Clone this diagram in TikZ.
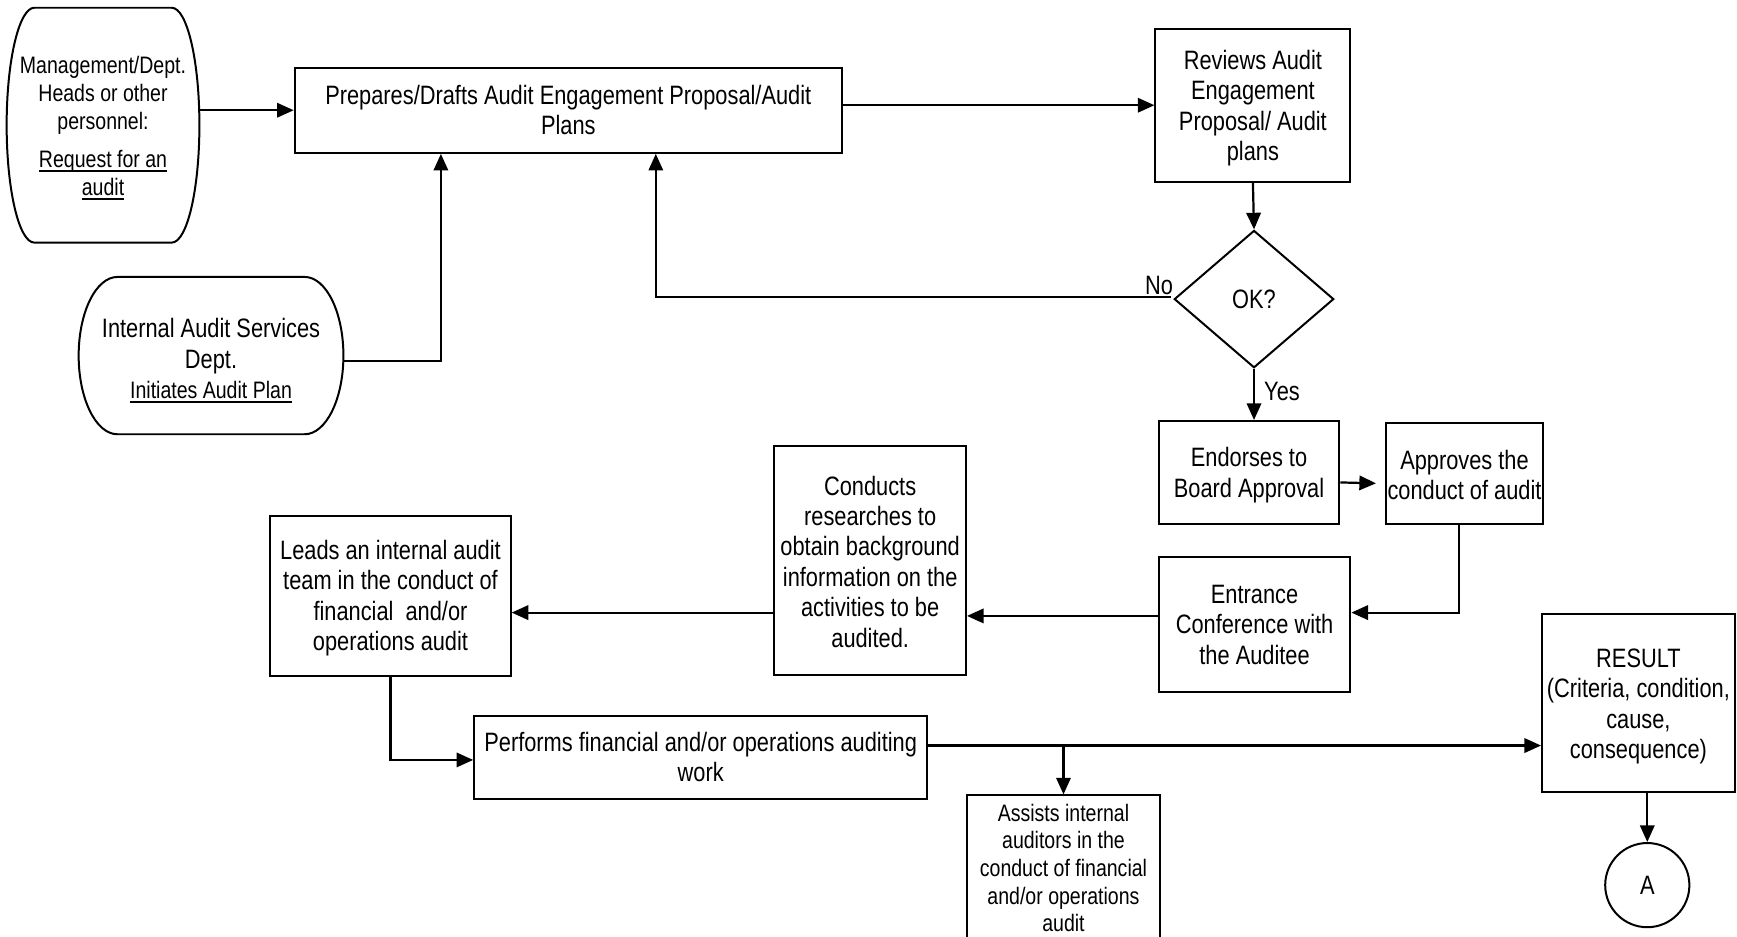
\documentclass[tikz,border=0pt]{standalone}
\usepackage{fontspec}
\setmainfont[FakeStretch=0.82]{Liberation Sans}
\usetikzlibrary{shapes.geometric,arrows.meta,calc}
\newcommand\dgmain{\fontsize{24}{27.5}\selectfont}
\newcommand\dgsmall{\fontsize{21.5}{25}\selectfont}
\newcommand\uln[1]{\setbox0\hbox{#1}\rlap{\rule[-3.5pt]{\wd0}{1.3pt}}\box0}
\newcommand\tsh[1]{\rule{0pt}{#1}}
\begin{document}
\begin{tikzpicture}[x=1pt,y=-1pt,
  box/.style={draw, line width=1.8pt, inner sep=0pt, align=center, font=\dgmain},
  term/.style={inner sep=0pt, align=center, font=\dgmain},
  lbl/.style={inner sep=0pt, font=\dgmain},
  arr/.style={line width=2pt, -{Triangle[length=15pt,width=13pt]}},
  outl/.style={line width=1.8pt}]
\useasboundingbox (0,0) rectangle (1568,845);
\clip (0,0) rectangle (1568,845);

% terminal-like nodes
\node[term, font=\dgsmall, minimum width=174pt, minimum height=212pt] (mgmt) at (93,113)
  {\tsh{20.7pt}Management/Dept.\\Heads or other\\personnel:\\[10pt]\uln{Request for an}\\\uln{audit}};
\draw[outl] (31,7) -- (155,7) arc[start angle=-90,end angle=90,x radius=25,y radius=106]
  -- (31,219) arc[start angle=90,end angle=270,x radius=25,y radius=106] -- cycle;

\node[term, minimum width=239pt, minimum height=142pt] (ias) at (190.5,321)
  {\tsh{26.5pt}Internal Audit Services\\Dept.\\{\dgsmall\uln{Initiates Audit Plan}}};
\draw[outl] (106,250) -- (275,250) arc[start angle=-90,end angle=90,x radius=35,y radius=71]
  -- (106,392) arc[start angle=90,end angle=270,x radius=35,y radius=71] -- cycle;

% process boxes
\node[box, minimum width=494pt, minimum height=77pt] (prep) at (513,99.5)
  {Prepares/Drafts Audit Engagement Proposal/Audit\\Plans};
\node[box, minimum width=176pt, minimum height=138pt] (rev) at (1131,95)
  {\tsh{23pt}Reviews Audit\\Engagement\\Proposal/ Audit\\plans};
\node[draw, line width=1.8pt, shape=diamond, inner sep=0pt, minimum width=144pt, minimum height=124pt, font=\dgmain] (dia) at (1132,270) {OK?};
\node[box, minimum width=163pt, minimum height=93pt] (endo) at (1127.5,426.5)
  {\tsh{22.5pt}Endorses to\\Board Approval};
\node[box, minimum width=142pt, minimum height=91pt] (appr) at (1322,427.5)
  {\tsh{19.5pt}Approves the\\conduct of audit};
\node[box, minimum width=173pt, minimum height=122pt] (entr) at (1132.5,564)
  {Entrance\\Conference with\\the Auditee};
\node[box, minimum width=173pt, minimum height=206pt] (cond) at (785.5,506)
  {\tsh{19.5pt}Conducts\\researches to\\obtain background\\information on the\\activities to be\\audited.};
\node[box, minimum width=217pt, minimum height=144pt] (lead) at (352.5,538)
  {\tsh{21.5pt}Leads an internal audit\\team in the conduct of\\financial\ \ and/or\\operations audit};
\node[box, minimum width=409pt, minimum height=75pt] (perf) at (632.5,683.5)
  {Performs financial and/or operations auditing\\work};
\node[box, font=\dgsmall, minimum width=174pt, minimum height=131pt] (assi) at (960,783.5)
  {Assists internal\\auditors in the\\conduct of financial\\and/or operations\\audit};
\node[box, minimum width=174pt, minimum height=161pt] (res) at (1479,634.5)
  {\tsh{23pt}RESULT\\(Criteria, condition,\\cause,\\consequence)};
\node[draw, line width=1.8pt, circle, inner sep=0pt, minimum size=76pt, font=\dgmain] (circA) at (1487,799) {A};

% labels
\node[lbl, anchor=base east] (nolbl) at (1059,266) {No};
\node[lbl, anchor=west] (yeslbl) at (1141,353) {Yes};

% connectors
\draw[arr] (prep.west -| mgmt.east) -- (prep.west);
\draw[arr] ([yshift=-5pt]ias.east) -| ([xshift=-115pt]prep.south);
\draw[arr] (rev.west -| prep.east) -- (rev.west);
\draw[arr] (rev.south) -- (dia.north);
\draw[arr] ([xshift=-2pt,yshift=2pt]dia.west) -| ([xshift=79pt]prep.south);
\draw[arr] (dia.south) -- (dia.south |- endo.north);
\draw[arr, shorten >=8pt] ([yshift=-9pt]endo.east) -- ([yshift=-9pt]appr.west);
\draw[arr] ([xshift=-5pt]appr.south) |- ([yshift=11pt]entr.east);
\draw[arr] ([yshift=8pt]entr.west) -- ([yshift=8pt]entr.west -| cond.east);
\draw[arr] ([yshift=-47pt]cond.west) -- ([yshift=-47pt]cond.west -| lead.east);
\draw[arr] (lead.south) |- ([yshift=-2.5pt]perf.west);
\draw[arr] ([yshift=10.5pt]perf.east) -- ([yshift=10.5pt]perf.east -| res.west);
\coordinate (br) at ([yshift=10.5pt]perf.east -| assi.north);
\draw[arr] (br) -- (assi.north);
\draw[arr] ([xshift=8pt]res.south) -- (circA.north);
\end{tikzpicture}
\end{document}
